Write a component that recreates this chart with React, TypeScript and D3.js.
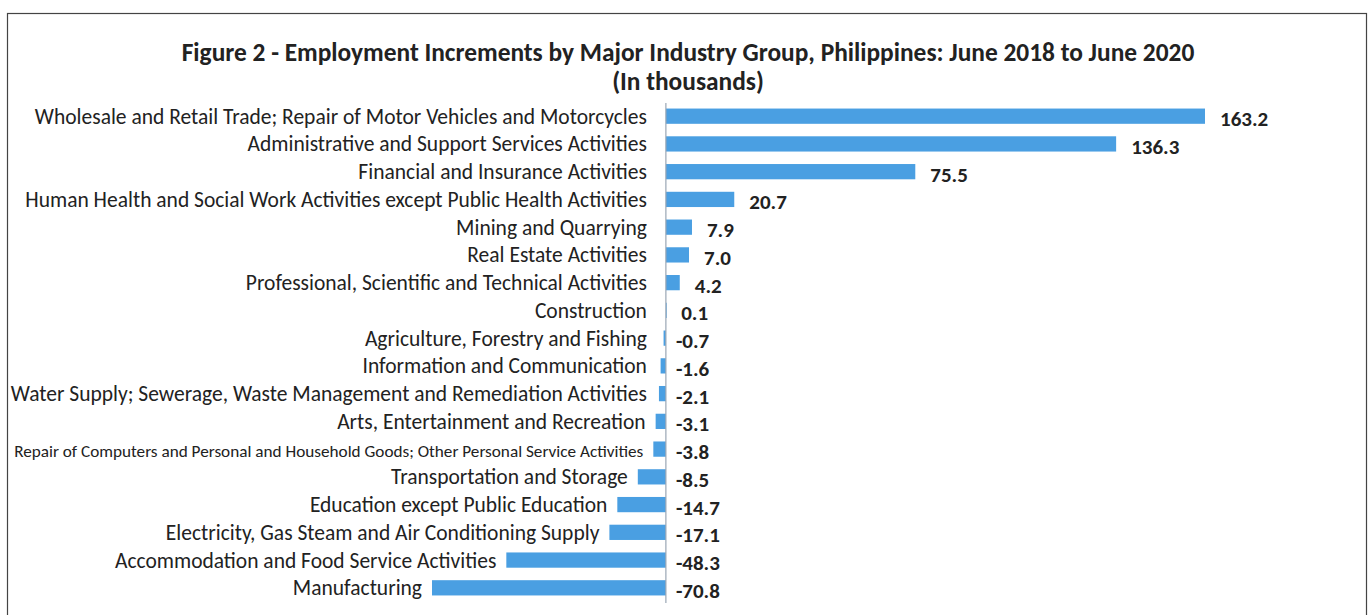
import React from "react";
import * as d3 from "d3";

const categories = [
  "Wholesale and Retail Trade; Repair of Motor Vehicles and Motorcycles",
  "Administrative and Support Services Activities",
  "Financial and Insurance Activities",
  "Human Health and Social Work Activities except Public Health Activities",
  "Mining and Quarrying",
  "Real Estate Activities",
  "Professional, Scientific and Technical Activities",
  "Construction",
  "Agriculture, Forestry and Fishing",
  "Information and Communication",
  "Water Supply; Sewerage, Waste Management and Remediation Activities",
  "Arts, Entertainment and Recreation",
  "Repair of Computers and Personal and Household Goods; Other Personal Service Activities",
  "Transportation and Storage",
  "Education except Public Education",
  "Electricity, Gas Steam and Air Conditioning Supply",
  "Accommodation and Food Service Activities",
  "Manufacturing",
];

const values = [
  163.2, 136.3, 75.5, 20.7, 7.9, 7.0, 4.2, 0.1, -0.7, -1.6, -2.1, -3.1, -3.8,
  -8.5, -14.7, -17.1, -48.3, -70.8,
];

const titleLines = [
  "Figure 2 - Employment Increments by Major Industry Group, Philippines: June 2018 to June 2020",
  "(In thousands)",
];

const W = 1369;
const H = 615;
const FONT = "Carlito, Calibri, Lato, sans-serif";

const App: React.FC = () => {
  const svgRef = React.useRef<SVGSVGElement>(null);

  React.useEffect(() => {
    const svgEl = d3.select(svgRef.current);
    svgEl.selectAll("*").remove();

    const data = categories.map((c, i) => ({ name: c, value: values[i] }));

    const xScale = d3
      .scaleLinear()
      .domain([d3.min(values)!, d3.max(values)!])
      .range([432, 1205]);

    const yScale = d3
      .scaleBand<string>()
      .domain(categories)
      .range([103, 601])
      .paddingInner(0.45)
      .paddingOuter(0.2);

    const x0 = xScale(0);

    // white background + frame
    svgEl.append("rect").attr("width", W).attr("height", H).attr("fill", "white");
    svgEl
      .append("rect")
      .attr("x", 7.5)
      .attr("y", 13.5)
      .attr("width", 1359)
      .attr("height", 620)
      .attr("fill", "none")
      .attr("stroke", "#444")
      .attr("stroke-width", 1.2);

    // title
    svgEl
      .selectAll(".title")
      .data(titleLines)
      .join("text")
      .attr("class", "title")
      .attr("x", 688)
      .attr("y", (d, i) => 61 + i * 29)
      .attr("text-anchor", "middle")
      .attr("font-family", FONT)
      .attr("font-weight", "bold")
      .attr("font-size", "25.4px")
      .attr("fill", "#222")
      .text((d) => d);

    // bars
    svgEl
      .append("g")
      .selectAll("rect")
      .data(data)
      .join("rect")
      .attr("x", (d) => Math.min(xScale(d.value), x0))
      .attr("y", (d) => yScale(d.name)!)
      .attr("width", (d) => Math.max(Math.abs(xScale(d.value) - x0), 0.8))
      .attr("height", yScale.bandwidth())
      .attr("fill", "#4a9fe2");

    // zero line
    svgEl
      .append("line")
      .attr("x1", x0)
      .attr("x2", x0)
      .attr("y1", 103)
      .attr("y2", 603)
      .attr("stroke", "#9aa6b4")
      .attr("stroke-width", 1.2);

    // category labels
    svgEl
      .append("g")
      .selectAll("text")
      .data(data)
      .join("text")
      .attr("x", (d) => Math.min(x0 - 19, xScale(d.value) - 10))
      .attr("y", (d) => yScale(d.name)! + yScale.bandwidth() / 2 + 7.5)
      .attr("text-anchor", "end")
      .attr("font-family", FONT)
      .attr("font-size", (d) => (d.name.length > 80 ? "17.2px" : "21.5px"))
      .attr("fill", "#222")
      .text((d) => d.name);

    // value labels
    svgEl
      .append("g")
      .selectAll("text")
      .data(data)
      .join("text")
      .attr("x", (d) => (d.value >= 0 ? xScale(d.value) + 15 : x0 + 10))
      .attr("y", (d) => yScale(d.name)! + yScale.bandwidth() / 2 + 10)
      .attr("text-anchor", "start")
      .attr("font-family", FONT)
      .attr("font-weight", "bold")
      .attr("font-size", "21px")
      .attr("fill", "#222")
      .text((d) => d.value.toFixed(1));
  }, []);

  return (
    <svg
      ref={svgRef}
      width={W}
      height={H}
      style={{ position: "absolute", left: 0, top: 0 }}
    />
  );
};

export default App;
